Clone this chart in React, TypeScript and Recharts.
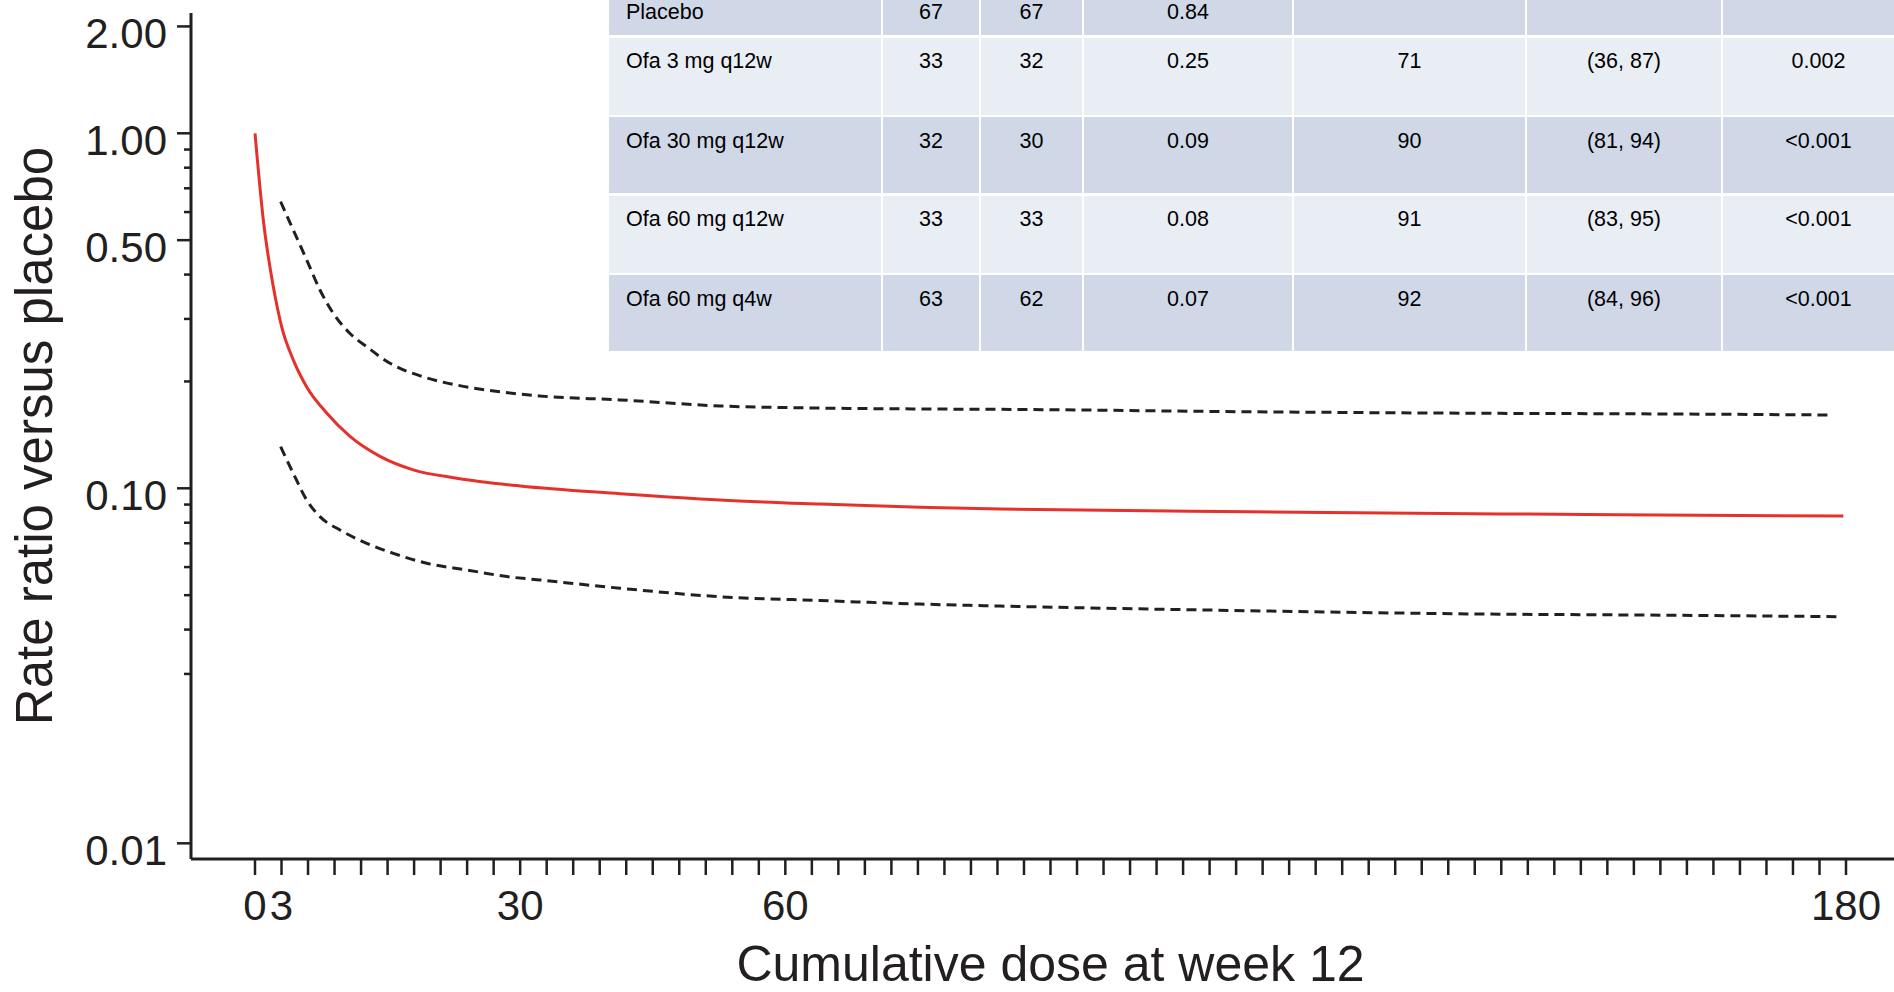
import { LineChart, Line, XAxis, YAxis, Label } from 'recharts';

// modelled rate ratio (red) with 95% band (dashed)
const redDose = [0, 0.94, 2.07, 3.02, 4.33, 5.85, 8.11, 10.75, 14.14, 17.9, 22.8, 30, 41.3, 52.6, 63.9, 75.2, 84.3, 112.6, 140.9, 154.1, 179.7];
const redRate = [1.0, 0.57, 0.37, 0.285, 0.23, 0.193, 0.163, 0.14, 0.123, 0.1127, 0.1068, 0.1015, 0.0966, 0.0927, 0.0903, 0.0884, 0.0874, 0.0859, 0.0847, 0.0843, 0.0835];

const upperDose = [2.9, 4.33, 5.85, 7.35, 8.86, 10.75, 12.64, 15.27, 19.04, 22.82, 27.7, 32.2, 41.3, 52.6, 63.9, 75.2, 84.3, 112.6, 140.9, 154.1, 178.5];
const upperRate = [0.642, 0.534, 0.44, 0.362, 0.311, 0.273, 0.2505, 0.225, 0.206, 0.1954, 0.187, 0.182, 0.1774, 0.1706, 0.1683, 0.1673, 0.1669, 0.1643, 0.1626, 0.1622, 0.1609];

const lowerDose = [2.9, 4.33, 5.85, 7.35, 9.62, 12.64, 15.65, 19.43, 23.95, 28.5, 32.2, 41.3, 52.6, 63.9, 75.2, 84.3, 112.6, 140.9, 154.1, 179.1];
const lowerRate = [0.131, 0.1102, 0.0927, 0.0832, 0.0763, 0.07, 0.0656, 0.0615, 0.0589, 0.0564, 0.0552, 0.0523, 0.0495, 0.0483, 0.0472, 0.0466, 0.0452, 0.0442, 0.044, 0.0435];

// axes
const xTicks = Array.from({ length: 61 }, (_, i) => i * 3);
const xLabelValues = [0, 3, 30, 60, 180];
const yMajor = [2, 1, 0.5, 0.1, 0.01];
const yMajorLabels = ['2.00', '1.00', '0.50', '0.10', '0.01'];
const yMinor = [0.9, 0.8, 0.7, 0.6, 0.4, 0.3, 0.2, 0.09, 0.08, 0.07, 0.06, 0.05, 0.04, 0.03];

// table
const groups = ['Placebo', 'Ofa 3 mg q12w', 'Ofa 30 mg q12w', 'Ofa 60 mg q12w', 'Ofa 60 mg q4w'];
const nRandomized = ['67', '33', '32', '33', '63'];
const nAnalyzed = ['67', '32', '30', '33', '62'];
const annualRate = ['0.84', '0.25', '0.09', '0.08', '0.07'];
const reduction = ['', '71', '90', '91', '92'];
const reductionCI = ['', '(36, 87)', '(81, 94)', '(83, 95)', '(84, 96)'];
const pValues = ['', '0.002', '<0.001', '<0.001', '<0.001'];

const INK = '#231f20';
const RED = '#e5312b';
const FONT = "'Liberation Sans', Arial, Helvetica, sans-serif";

const toPoints = (dose: number[], rate: number[]) => dose.map((d, i) => ({ dose: d, rate: rate[i] }));

function XTick({ x, y, payload }: any) {
  const show = xLabelValues.includes(payload.value);
  return (
    <g>
      <line x1={x} y1={y} x2={x} y2={y + 16} stroke={INK} strokeWidth={2.5} />
      {show && (
        <text x={x} y={y + 61} textAnchor="middle" fontSize={42} fill={INK} fontFamily={FONT}>
          {payload.value}
        </text>
      )}
    </g>
  );
}

function YTick({ x, y, payload }: any) {
  const idx = yMajor.indexOf(payload.value);
  const len = idx >= 0 ? 14 : 7;
  return (
    <g>
      <line x1={x} y1={y} x2={x - len} y2={y} stroke={INK} strokeWidth={2.5} />
      {idx >= 0 && (
        <text x={x - 24} y={y + 22} textAnchor="end" fontSize={42} fill={INK} fontFamily={FONT}>
          {yMajorLabels[idx]}
        </text>
      )}
    </g>
  );
}

function ResultsTable() {
  const cols = [groups, nRandomized, nAnalyzed, annualRate, reduction, reductionCI, pValues];
  return (
    <div
      style={{
        position: 'absolute',
        left: 609,
        top: -12,
        display: 'grid',
        gridTemplateColumns: '272px 96px 101px 208px 231px 194px 191px',
        gridTemplateRows: '47px 77px 76px 77px 76px',
        columnGap: 2,
        rowGap: 2.5,
        background: '#fff',
        fontFamily: FONT,
        fontSize: 21.5,
        lineHeight: '26px',
        color: '#000',
      }}
    >
      {groups.map((_, r) =>
        cols.map((col, c) => (
          <div
            key={`${r}-${c}`}
            style={{
              background: r % 2 === 0 ? '#d0d8e8' : '#e9edf4',
              paddingTop: 10.5,
              paddingLeft: c === 0 ? 17 : 0,
              textAlign: c === 0 ? 'left' : 'center',
              whiteSpace: 'nowrap',
            }}
          >
            {col[r]}
          </div>
        ))
      )}
    </div>
  );
}

export default function App() {
  return (
    <div
      style={{
        position: 'absolute',
        left: 0,
        top: 0,
        width: 1894,
        height: 992,
        overflow: 'hidden',
        background: '#fff',
      }}
    >
      <LineChart width={1894} height={992} margin={{ top: 13, right: 0, bottom: 0, left: 0 }}>
        <XAxis
          dataKey="dose"
          type="number"
          domain={[-7.24, 185.43]}
          allowDataOverflow
          ticks={xTicks}
          interval={0}
          tick={<XTick />}
          tickLine={false}
          tickSize={0}
          tickMargin={0}
          height={133}
          axisLine={{ stroke: INK, strokeWidth: 3 }}
        >
          <Label
            content={({ viewBox }: any) => (
              <text
                x={viewBox.x + viewBox.width / 2 + 8}
                y={viewBox.y + 122}
                textAnchor="middle"
                fontSize={50}
                fill={INK}
                fontFamily={FONT}
              >
                Cumulative dose at week 12
              </text>
            )}
          />
        </XAxis>
        <XAxis
          xAxisId="top"
          orientation="top"
          dataKey="dose"
          type="number"
          domain={[-7.24, 185.43]}
          allowDataOverflow
          height={0}
          tick={false}
          tickLine={false}
          axisLine={{ stroke: INK, strokeWidth: 3 }}
        />
        <YAxis
          type="number"
          scale="log"
          domain={[0.009033, 2.182]}
          allowDataOverflow
          ticks={[...yMajor, ...yMinor]}
          interval={0}
          tick={<YTick />}
          tickLine={false}
          tickSize={0}
          tickMargin={0}
          width={191}
          axisLine={{ stroke: INK, strokeWidth: 3 }}
        >
          <Label
            content={({ viewBox }: any) => {
              const cx = viewBox.x + 52;
              const cy = viewBox.y + viewBox.height / 2;
              return (
                <text
                  x={cx}
                  y={cy}
                  transform={`rotate(-90 ${cx} ${cy})`}
                  textAnchor="middle"
                  fontSize={51}
                  fill={INK}
                  fontFamily={FONT}
                >
                  Rate ratio versus placebo
                </text>
              );
            }}
          />
        </YAxis>
        <Line
          data={toPoints(upperDose, upperRate)}
          dataKey="rate"
          type="monotone"
          stroke={INK}
          strokeWidth={3}
          strokeDasharray="10 6"
          dot={false}
          isAnimationActive={false}
        />
        <Line
          data={toPoints(lowerDose, lowerRate)}
          dataKey="rate"
          type="monotone"
          stroke={INK}
          strokeWidth={3}
          strokeDasharray="10 6"
          dot={false}
          isAnimationActive={false}
        />
        <Line
          data={toPoints(redDose, redRate)}
          dataKey="rate"
          type="monotone"
          stroke={RED}
          strokeWidth={3}
          dot={false}
          isAnimationActive={false}
        />
      </LineChart>
      <ResultsTable />
    </div>
  );
}
